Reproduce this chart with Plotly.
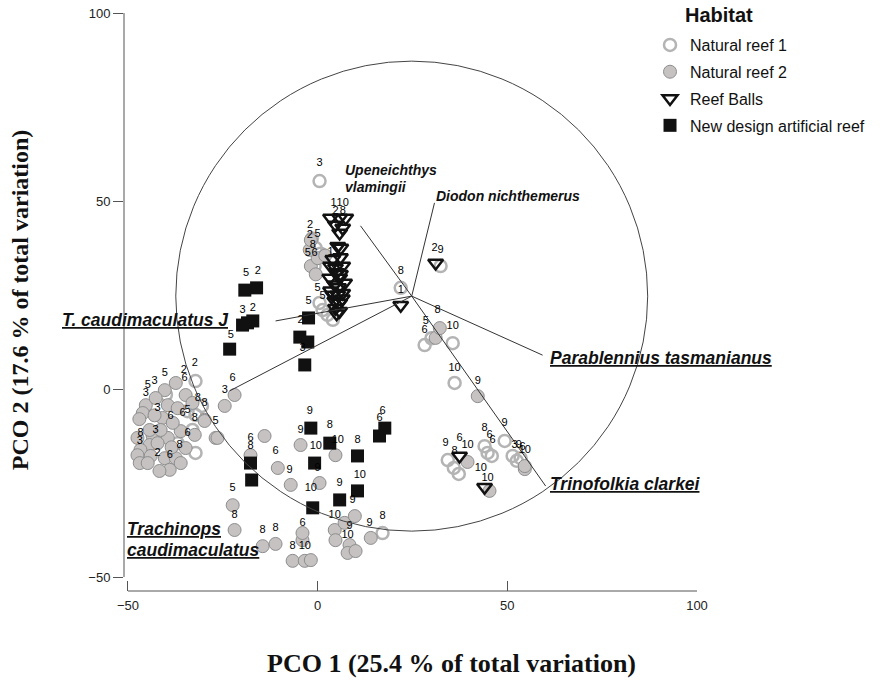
import plotly.graph_objects as go

# ---------------- data (PCO scores) ----------------
nr1_x = [-32.2, -32.2, -34.3, -33.0, -32.2, -36.9, -40.0, -30.5,
         0.5, -0.8, 0.5, 1.3, 2.6, 4.0, 21.9, -0.5, 0.8, -1.5,
         28.2, 35.6, 36.1, 32.4, 30.0,
         34.3, 35.9, 37.2, 44.0, 44.8, 45.9, 49.3, 51.4, 52.5, 53.5,
         17.1]
nr1_y = [2.1, -6.9, -5.9, -10.9, -17.0, -14.4, -1.5, -4.5,
         55.3, 32.7, 22.9, 21.0, 19.7, 18.4, 26.9, 37.5, 36.0, 40.0,
         11.7, 12.2, 1.6, 32.7, 13.5,
         -18.9, -21.0, -22.6, -15.2, -17.0, -17.8, -13.8, -17.8, -19.1, -18.4,
         -38.3]

nr2_x = [-45.3, -39.5, -34.8, -40.3, -42.7, -36.9, -29.8, -32.4, -36.1, -39.5,
         -43.5, -44.3, -46.7, -47.5, -46.9, -44.0, -40.3, -37.4, -36.1, -39.0,
         -41.7, -34.8, -40.9, -41.4, -26.9, -24.5, -21.9, -44.3, -42.2, -46.1,
         -47.5, -38.2, -33.0, -44.8, -37.4, -47.0, -43.0, -38.5,
         -1.8, 0.0, -2.1, -1.8, 2.0, -0.5,
         31.1, 32.2, 42.2,
         39.5, 45.3, 54.6, 54.6,
         -29.8, -26.4, -14.0, -17.7, -10.5, -7.1, -4.5, 4.7, 0.5, -22.4,
         -21.9, -14.5, -11.1, -4.0, -6.6, -3.4, -1.8, 4.5, 4.7, 7.1,
         9.8, 8.4, 7.9, 10.0, 14.0, -4.0]
nr2_y = [-4.3, -4.3, -1.6, -0.3, -2.4, -5.1, -8.2, -12.2, -11.2, -13.0,
         -12.5, -14.9, -16.2, -17.6, -19.7, -17.8, -18.4, -18.4, -19.7, -21.5,
         -21.8, -15.7, -7.7, -10.9, -13.0, -4.5, -1.6, -10.9, -14.4, -6.4,
         -13.0, -9.0, -3.7, -19.7, 1.6, -8.0, -7.0, -15.5,
         32.7, 34.8, 37.0, 39.6, 35.5, 30.5,
         13.6, 16.2, -1.9,
         -19.4, -27.1, -21.3, -20.5,
         -8.5, -13.0, -12.5, -17.6, -21.0, -25.5, -14.9, -17.6, -25.0, -30.9,
         -37.5, -41.8, -41.2, -40.2, -45.7, -45.7, -45.5, -37.5, -40.2, -35.6,
         -33.8, -41.5, -43.6, -43.1, -39.6, -38.3]

rb_x = [3.4, 5.8, 7.4, 4.7, 6.6, 5.8, 5.3, 6.1, 3.4, 4.7,
        6.6, 3.2, 5.8, 4.5, 7.1, 3.4, 5.3, 6.6, 4.5, 5.8,
        5.8, 4.7, 5.0, 6.0, 4.0, 6.0, 5.5, 6.5, 4.0, 5.0,
        21.9, 31.1, 37.4, 44.0]
rb_y = [45.5, 45.5, 45.5, 43.6, 42.8, 41.5, 38.0, 37.5, 32.7, 32.2,
        32.7, 29.5, 29.5, 27.7, 28.2, 26.1, 25.0, 25.5, 23.4, 22.9,
        20.7, 21.5, 31.0, 30.5, 34.5, 35.0, 27.0, 24.0, 25.0, 20.0,
        22.3, 33.5, -17.8, -26.1]

nd_x = [-19.2, -16.1, -19.8, -18.5, -17.1, -23.2, -2.4, -4.7, -2.6, -3.4,
        -1.8, 3.2, 10.5, -0.8, -17.7, -17.4, -1.3, 5.8, 10.5, 16.3, 17.7]
nd_y = [26.3, 26.9, 17.0, 17.6, 18.1, 10.6, 18.9, 13.8, 12.5, 6.4,
        -10.4, -14.4, -17.8, -19.7, -19.7, -24.2, -31.6, -29.5, -27.1, -12.5, -10.4]

# sample labels
lab_text = ["2", "2", "3", "5", "3", "5", "6", "8", "8", "6", "5", "5", "8", "3", "6", "6",
            "8", "3", "8", "2", "6", "3", "6", "3",
            "5", "2", "3", "2", "5", "5", "2", "3",
            "9", "9", "8", "10", "10", "8", "9", "10", "9", "10", "6", "6", "8", "6",
            "1", "10", "2", "8", "1", "5", "5", "3", "2", "5", "8", "5", "6", "2", "8", "1",
            "2", "9",
            "5", "8", "6", "10", "10", "9",
            "9", "8", "6", "10", "8", "6", "6", "9", "3", "9", "6", "10", "10", "10",
            "6", "9", "5", "8", "8", "8", "6", "8", "10", "10", "9", "10", "9", "8", "9"]
lab_x = [-32.4, -35.3, -43.0, -44.8, -45.3, -40.3, -35.1, -31.6, -29.8, -35.6, -34.3, -26.9, -32.4, -42.2, -38.8, -34.3,
         -46.7, -46.9, -36.4, -42.2, -39.0, -24.5, -22.4, -42.7,
         -18.9, -15.8, -19.8, -17.1, -22.9, -2.4, -4.5, -4.0,
         -2.1, -4.5, 3.2, 5.3, -0.5, 10.5, 0.0, 11.1, 5.8, -1.8, 17.1, 16.3, -17.7, -17.7,
         4.2, 6.6, 4.7, 6.6, 3.4, 0.0, 1.3, 0.5, -2.1, 0.0, -1.3, -2.6, -0.8, -2.0, 21.9, 21.9,
         30.8, 32.4,
         28.5, 31.6, 28.2, 35.6, 36.1, 42.2,
         33.7, 36.1, 37.4, 39.5, 44.0, 45.3, 46.1, 49.3, 51.9, 53.0, 54.0, 54.6, 43.0, 44.8,
         -11.1, -7.4, -22.4, -21.9, -14.5, -11.1, -4.0, -6.6, -3.4, 4.5, 8.4, 7.9, 13.7, 17.1, 9.2]
lab_y = [6.9, 5.1, 2.1, 1.1, -1.1, 4.3, 2.9, -2.4, -3.7, -6.4, -5.6, -8.5, -7.7, -5.1, -7.2, -11.7,
         -11.7, -13.8, -14.9, -17.0, -17.6, -0.3, 2.9, -10.9,
         30.9, 31.4, 21.0, 21.5, 14.4, 23.4, 18.4, 10.9,
         -5.9, -10.9, -9.6, -13.6, -15.2, -13.6, -21.0, -22.9, -25.0, -26.3, -5.9, -7.7, -15.2, -13.0,
         49.5, 49.5, 47.3, 47.3, 36.4, 26.9, 24.7, 60.1, 41.0, 41.2, 38.3, 36.2, 36.2, 43.5, 31.4, 26.3,
         37.5, 37.0,
         18.1, 21.0, 15.7, 16.8, 5.6, 2.1,
         -14.4, -16.5, -13.0, -14.9, -10.4, -12.2, -13.6, -9.0, -14.9, -14.9, -15.4, -16.2, -21.0, -23.7,
         -16.5, -21.5, -26.3, -33.5, -37.5, -37.0, -35.6, -41.8, -41.8, -33.5, -36.4, -38.8, -35.6, -33.8, -29.5]

# vector overlay (species correlations), origin and end points
vec_origin = (24.8, 24.7)
vec_names = ["Upeneichthys vlamingii", "Diodon nichthemerus", "T. caudimaculatus J",
             "Parablennius tasmanianus", "Trinofolkia clarkei", "Trachinops caudimaculatus"]
vec_x = [11.3, 30.8, -11.1, 59.3, 60.1, -23.2]
vec_y = [43.4, 49.5, 18.1, 9.0, -25.8, -0.5]
circle_r_x = 62.2
circle_r_y = 62.5

# ---------------- figure ----------------
fig = go.Figure()

common = dict(mode="markers", cliponaxis=False)
fig.add_trace(go.Scatter(x=nr1_x, y=nr1_y, name="Natural reef 1", legendgroup="a",
                         marker=dict(symbol="circle", size=12, color="rgba(255,255,255,0)",
                                     line=dict(color="#b4b4b4", width=2.5)), **common))
fig.add_trace(go.Scatter(x=nr2_x, y=nr2_y, name="Natural reef 2", legendgroup="b",
                         marker=dict(symbol="circle", size=13, color="#c6c2c2",
                                     line=dict(color="#8e8e8e", width=1)), **common))
fig.add_trace(go.Scatter(x=rb_x, y=rb_y, name="Reef Balls", legendgroup="c",
                         marker=dict(symbol="triangle-down-open", size=13, color="#111111",
                                     line=dict(color="#111111", width=2.5)), **common))
fig.add_trace(go.Scatter(x=nd_x, y=nd_y, name="New design artificial reef", legendgroup="d",
                         marker=dict(symbol="square", size=13, color="#111111",
                                     line=dict(width=0)), **common))

# vector lines
lx, ly = [], []
for ex, ey in zip(vec_x, vec_y):
    lx += [vec_origin[0], ex, None]
    ly += [vec_origin[1], ey, None]
fig.add_trace(go.Scatter(x=lx, y=ly, mode="lines", line=dict(color="#333333", width=1),
                         showlegend=False, hoverinfo="skip"))

fig.add_trace(go.Scatter(x=lab_x, y=lab_y, mode="text", text=lab_text, showlegend=False,
                         textfont=dict(family="Liberation Sans, Arial", size=11, color="#000000"),
                         cliponaxis=False, hoverinfo="skip"))

# correlation circle
fig.add_shape(type="circle", xref="x", yref="y",
              x0=vec_origin[0] - circle_r_x, x1=vec_origin[0] + circle_r_x,
              y0=vec_origin[1] - circle_r_y, y1=vec_origin[1] + circle_r_y,
              line=dict(color="#444444", width=1))

# axis lines (offset style)
fig.add_shape(type="line", xref="paper", yref="y", x0=0, x1=0, y0=-50, y1=100,
              line=dict(color="#555555", width=1))
fig.add_shape(type="line", xref="x", yref="paper", x0=-50, x1=100, y0=0, y1=0,
              line=dict(color="#555555", width=1))

bi = dict(family="Liberation Sans, Arial", color="#111111")
# vector labels
fig.add_annotation(x=vec_x[0] - 4.7, y=58.2, xref="x", yref="y", text="<b><i>Upeneichthys</i></b>",
                   showarrow=False, xanchor="left", yanchor="middle", font=dict(size=14, **bi))
fig.add_annotation(x=vec_x[0] - 4.7, y=53.8, xref="x", yref="y", text="<b><i>vlamingii</i></b>",
                   showarrow=False, xanchor="left", yanchor="middle", font=dict(size=14, **bi))
fig.add_annotation(x=vec_x[1] - 0.2, y=51.3, xref="x", yref="y", text="<b><i>Diodon nichthemerus</i></b>",
                   showarrow=False, xanchor="left", yanchor="middle", font=dict(size=14, **bi))
fig.add_annotation(x=-22.9, y=18.4, xref="x", yref="y", text="<u><b><i>T. caudimaculatus J</i></b></u>",
                   showarrow=False, xanchor="right", yanchor="middle", font=dict(size=17.5, **bi))
fig.add_annotation(x=vec_x[3] + 1.3, y=8.3, xref="x", yref="y", text="<u><b><i>Parablennius tasmanianus</i></b></u>",
                   showarrow=False, xanchor="left", yanchor="middle", font=dict(size=17.5, **bi))
fig.add_annotation(x=vec_x[4] + 0.5, y=-25.3, xref="x", yref="y", text="<u><b><i>Trinofolkia clarkei</i></b></u>",
                   showarrow=False, xanchor="left", yanchor="middle", font=dict(size=17.5, **bi))
fig.add_annotation(x=-50.8, y=-37.2, xref="x", yref="y", text="<u><b><i>Trachinops</i></b></u>",
                   showarrow=False, xanchor="left", yanchor="middle", font=dict(size=17.5, **bi))
fig.add_annotation(x=-50.8, y=-42.8, xref="x", yref="y", text="<u><b><i>caudimaculatus</i></b></u>",
                   showarrow=False, xanchor="left", yanchor="middle", font=dict(size=17.5, **bi))

# axis titles
serif = dict(family="Liberation Serif, Times New Roman", color="#111111")
fig.add_annotation(x=0.5724, y=-0.1246, xref="paper", yref="paper",
                   text="<b>PCO 1 (25.4 % of total variation)</b>", showarrow=False,
                   xanchor="center", yanchor="middle", font=dict(size=26, **serif))
fig.add_annotation(x=-0.1815, y=0.503, xref="paper", yref="paper", textangle=-90,
                   text="<b>PCO 2 (17.6 % of total variation)</b>", showarrow=False,
                   xanchor="center", yanchor="middle", font=dict(size=24, **serif))

# legend heading
fig.add_annotation(x=0.9756, y=0.9965, xref="paper", yref="paper", text="<b>Habitat</b>",
                   showarrow=False, xanchor="left", yanchor="middle",
                   font=dict(family="Liberation Sans, Arial", size=20, color="#111111"))

tickfont = dict(family="Liberation Sans, Arial", size=13, color="#222222")
fig.update_layout(
    width=886, height=681,
    margin=dict(l=124, r=189, t=13, b=90, autoexpand=False),
    paper_bgcolor="white", plot_bgcolor="white",
    xaxis=dict(range=[-51.05, 100], tickvals=[-50, 0, 50, 100], ticks="inside", ticklen=10,
               tickcolor="#555555", showgrid=False, zeroline=False, showline=False,
               tickfont=tickfont, ticklabelstandoff=5),
    yaxis=dict(range=[-53.72, 100], tickvals=[-50, 0, 50, 100], ticks="outside", ticklen=10,
               tickcolor="#555555", showgrid=False, zeroline=False, showline=False,
               tickfont=tickfont),
    legend=dict(x=0.918, y=0.974, xanchor="left", yanchor="top", bgcolor="rgba(255,255,255,0)",
                font=dict(family="Liberation Sans, Arial", size=16, color="#111111"),
                tracegroupgap=3, itemsizing="trace"),
    showlegend=True,
)

fig.write_html("out.html")
